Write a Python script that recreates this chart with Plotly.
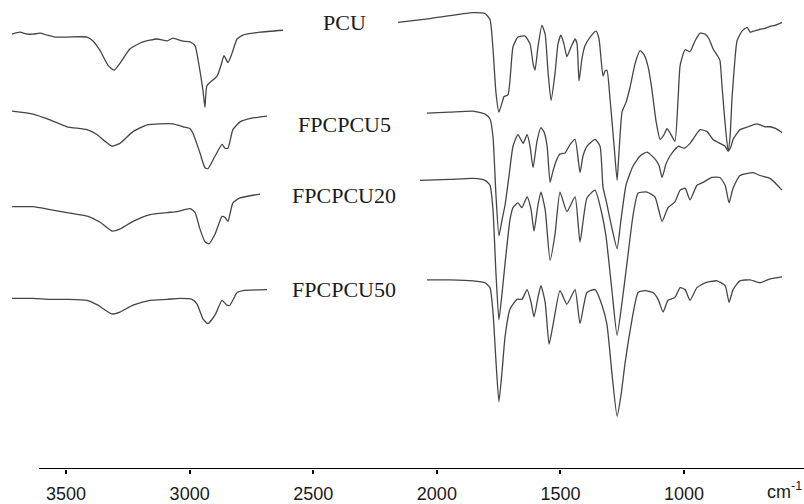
import plotly.graph_objects as go

# ---------------- data (wavenumber cm-1, transmittance a.u. with offsets) -------------
# PCU
pcu_hi_wn = [3718, 3686, 3658, 3633, 3605, 3577, 3544, 3496, 3415, 3391, 3362, 3330, 3306, 3282, 3241,
             3189, 3132, 3091, 3067, 3031, 2998, 2978, 2962, 2946, 2938, 2930, 2889, 2873, 2861, 2845,
             2829, 2808, 2784, 2715, 2622]
pcu_hi_t = [446, 448, 446, 446, 447, 445, 443, 443, 443, 439, 429, 414, 409, 416, 431,
            438, 441, 439, 442, 439, 438, 434, 414, 388, 371, 393, 403, 414, 424, 417,
            426, 441, 445, 448, 450]
pcu_lo_wn = [2157, 2028, 1854, 1805, 1785, 1773, 1761, 1749, 1736, 1728,
             1712, 1692, 1672, 1643, 1623, 1611, 1603, 1591, 1575, 1562,
             1550, 1538, 1522, 1510, 1498, 1486, 1474, 1457, 1441, 1433,
             1425, 1413, 1401, 1380, 1356, 1344, 1328, 1320, 1312, 1300,
             1283, 1271, 1263, 1251, 1235, 1219, 1198, 1178, 1162, 1146,
             1134, 1126, 1113, 1097, 1081, 1069, 1053, 1037, 1024, 1016,
             996, 976, 956, 935, 915, 899, 883, 863, 855, 847,
             834, 822, 814, 806, 794, 786, 766, 745, 733, 721,
             705, 693, 673, 652, 632, 604]
pcu_lo_t = [458, 462, 468, 467, 461, 431, 386, 366, 376, 382,
            384, 433, 443, 444, 436, 416, 409, 433, 455, 446,
            406, 378, 406, 436, 445, 436, 423, 433, 441, 436,
            398, 421, 434, 443, 449, 441, 403, 408, 409, 381,
            331, 296, 326, 366, 376, 391, 416, 429, 425, 413,
            396, 381, 356, 338, 343, 349, 343, 336, 381, 414,
            430, 428, 439, 447, 446, 441, 431, 423, 419, 394,
            354, 326, 341, 381, 421, 439, 449, 453, 448, 449,
            450, 451, 452, 454, 455, 458]

# FPCPCU5
f5_hi_wn = [3718, 3633, 3565, 3496, 3415, 3375, 3342, 3314, 3282, 3229, 3172, 3120, 3067, 3027,
            2998, 2986, 2958, 2938, 2926, 2897, 2869, 2857, 2845, 2825, 2796, 2744, 2687]
f5_hi_t = [367, 364, 358, 351, 348, 343, 336, 331, 334, 346, 353, 354, 354, 351,
           349, 344, 324, 309, 308, 321, 333, 329, 329, 348, 356, 360, 362]
f5_lo_wn = [2040, 1947, 1854, 1805, 1785, 1773, 1761, 1749, 1736, 1724,
            1708, 1692, 1672, 1651, 1635, 1623, 1611, 1595, 1579, 1567,
            1554, 1542, 1530, 1514, 1502, 1482, 1461, 1441, 1421, 1409,
            1393, 1360, 1340, 1328, 1316, 1291, 1271, 1255, 1235, 1206,
            1178, 1150, 1118, 1101, 1089, 1073, 1057, 1024, 1000, 976,
            935, 907, 883, 855, 834, 822, 810, 802, 774, 741,
            705, 673, 652, 628, 604]
f5_lo_t = [365, 366, 367, 364, 359, 341, 281, 239, 256, 271,
           301, 331, 343, 334, 343, 331, 309, 336, 350, 346,
           331, 294, 306, 318, 323, 324, 333, 338, 304, 321,
           331, 338, 331, 289, 276, 246, 226, 256, 291, 311,
           321, 325, 318, 311, 299, 313, 321, 331, 329, 334,
           348, 346, 338, 334, 331, 326, 331, 338, 348, 351,
           354, 351, 351, 349, 345]

# FPCPCU20
f20_hi_wn = [3718, 3633, 3565, 3496, 3411, 3362, 3314, 3282, 3229, 3160, 3091, 3051,
             2998, 2978, 2958, 2938, 2922, 2897, 2869, 2857, 2845, 2825, 2796, 2715]
f20_hi_t = [269, 269, 266, 263, 259, 253, 244, 246, 254, 261, 263, 264,
            267, 263, 246, 233, 231, 241, 259, 258, 254, 273, 278, 282]
f20_lo_wn = [2068, 1947, 1854, 1805, 1785, 1773, 1761, 1749, 1736, 1720,
             1704, 1692, 1672, 1656, 1635, 1619, 1607, 1591, 1579, 1562,
             1542, 1522, 1502, 1474, 1441, 1421, 1393, 1360, 1332, 1316,
             1291, 1271, 1251, 1231, 1206, 1186, 1150, 1118, 1089, 1065,
             1037, 1016, 996, 976, 948, 923, 887, 855, 834, 818,
             802, 774, 721, 693, 652, 604]
f20_lo_t = [296, 297, 298, 296, 291, 266, 201, 153, 181, 221,
            256, 268, 273, 268, 279, 266, 244, 271, 284, 266,
            214, 241, 284, 264, 279, 233, 278, 286, 261, 239,
            181, 137, 171, 211, 261, 283, 284, 279, 254, 268,
            274, 286, 288, 276, 291, 294, 299, 299, 291, 273,
            288, 301, 304, 301, 298, 286]

# FPCPCU50
f50_hi_wn = [3718, 3633, 3565, 3496, 3415, 3371, 3314, 3282, 3229, 3160, 3091, 3039,
             2990, 2970, 2946, 2926, 2897, 2869, 2849, 2837, 2808, 2784, 2687]
f50_hi_t = [175, 175, 174, 174, 173, 168, 159, 161, 168, 173, 174, 175,
            174, 169, 154, 149, 158, 173, 168, 168, 181, 183, 184]
f50_lo_wn = [2040, 1947, 1854, 1805, 1785, 1773, 1761, 1749, 1736, 1724,
             1704, 1676, 1656, 1635, 1619, 1607, 1591, 1579, 1562, 1546,
             1530, 1502, 1474, 1441, 1421, 1393, 1360, 1332, 1312, 1291,
             1271, 1255, 1239, 1219, 1186, 1158, 1126, 1105, 1085, 1065,
             1037, 1016, 996, 976, 948, 915, 867, 834, 818, 802,
             774, 733, 693, 652, 604]
f50_lo_t = [194, 194, 193, 191, 186, 161, 111, 69, 101, 136,
            164, 174, 174, 184, 171, 156, 176, 188, 171, 128,
            148, 183, 169, 184, 149, 181, 184, 168, 148, 96,
            54, 76, 108, 141, 181, 183, 181, 174, 161, 173,
            176, 186, 184, 173, 186, 191, 193, 188, 171, 184,
            193, 194, 191, 195, 197]

series_names = ["PCU", "FPCPCU5", "FPCPCU20", "FPCPCU50"]
tick_vals = [3500, 3000, 2500, 2000, 1500, 1000]
tick_text = ["3500", "3000", "2500", "2000", "1500", "1000"]

segments = [
    (pcu_hi_wn, pcu_hi_t), (pcu_lo_wn, pcu_lo_t),
    (f5_hi_wn, f5_hi_t), (f5_lo_wn, f5_lo_t),
    (f20_hi_wn, f20_hi_t), (f20_lo_wn, f20_lo_t),
    (f50_hi_wn, f50_hi_t), (f50_lo_wn, f50_lo_t),
]

fig = go.Figure()
line_color = "#454545"
for i, (wn, t) in enumerate(segments):
    fig.add_trace(go.Scatter(x=wn, y=t, mode="lines", name=series_names[i // 2],
                             line=dict(color=line_color, width=1.3, shape="spline", smoothing=0.5),
                             showlegend=False, hoverinfo="skip"))

# labels for spectra
label_pos = [(2375, 458), (2375, 353), (2375, 281), (2375, 184)]
for name, (lx, ly) in zip(series_names, label_pos):
    fig.add_annotation(x=lx, y=ly, text=name, showarrow=False, xanchor="center", yanchor="middle",
                       font=dict(family="Liberation Serif, Times New Roman, serif", size=22, color="#1a1a1a"))

# axis baseline (starts a little left of 3500)
fig.add_shape(type="line", xref="x", yref="y", x0=3609, x1=515, y0=0, y1=0,
              line=dict(color="black", width=2))

fig.add_annotation(xref="paper", yref="paper", x=1.0, y=0, xanchor="right", yanchor="top",
                   yshift=-8, text="cm<sup>-1</sup>", showarrow=False,
                   font=dict(family="Liberation Sans, Arial, sans-serif", size=18, color="#1a1a1a"))

fig.update_layout(
    width=804, height=504,
    margin=dict(l=0, r=0, t=0, b=23),
    paper_bgcolor="white", plot_bgcolor="white",
    xaxis=dict(range=[3767, 515], showgrid=False, zeroline=False, showline=False,
               tickmode="array", tickvals=tick_vals, ticktext=tick_text,
               ticks="outside", ticklen=4, tickwidth=1.5, tickcolor="black",
               ticklabelstandoff=4,
               tickfont=dict(family="Liberation Sans, Arial, sans-serif", size=18, color="#1a1a1a")),
    yaxis=dict(range=[0, 481], visible=False, showgrid=False, zeroline=False),
)

fig.write_html("out.html", config={"displayModeBar": False},
               post_script="document.body.style.margin='0px';")
